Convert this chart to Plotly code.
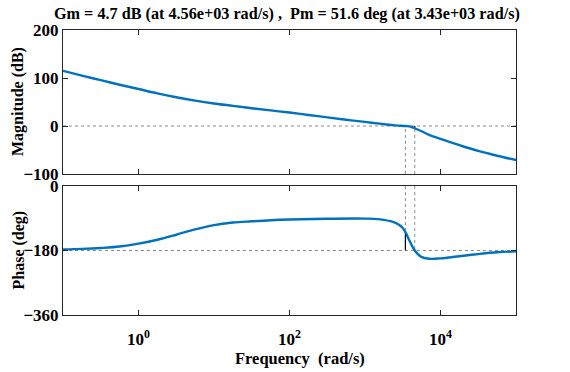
import plotly.graph_objects as go

# ---- data ----
mag_freq = [0.1, 0.178, 0.316, 0.562, 1, 1.78, 3.16, 5.62, 10, 17.8, 31.6, 56.2, 100,
            178, 316, 562, 1000, 1780, 2510, 3430, 3980, 4560, 5620, 7080, 10000,
            17800, 31600, 56200, 100000]
mag_db = [115, 105, 95.5, 86, 77, 68, 60, 53, 47, 42, 37, 32.5, 28,
          23, 18, 13, 8.5, 3.8, 1.3, 0, -1, -4.7, -11, -18.5, -27,
          -40, -52, -62, -71]

ph_freq = [0.1, 0.178, 0.316, 0.562, 1, 1.78, 3.16, 5.62, 10, 17.8, 31.6, 56.2, 100,
           316, 1000, 1580, 2340, 2820, 3160, 3430, 3890, 4560, 5500, 7080, 10000,
           17800, 31600, 56200, 100000]
ph_deg = [-177, -175.5, -173, -169, -161, -150, -136, -121, -109, -102, -98.5, -95.5, -93.5,
          -91.5, -91, -93, -100, -108, -117, -128.4, -153, -180, -197, -203, -202,
          -196, -190, -185, -182.5]

gm_db = 4.7
gm_freq = 4.56e3
pm_deg = 51.6
pm_freq = 3.43e3

x_tickvals = [1, 100, 10000]
x_ticktext = ["10<sup>0</sup>", "10<sup>2</sup>", "10<sup>4</sup>"]
mag_ticks = [200, 100, 0, -100]
ph_ticks = [0, -180, -360]

title_text = ("Gm = %.1f dB (at %.2e rad/s) ,  Pm = %.1f deg (at %.2e rad/s)"
              % (gm_db, gm_freq, pm_deg, pm_freq)).replace("  ", "\u00a0\u00a0")

# ---- figure ----
BLUE = "#0072BD"
AX = "#262626"
GRAY = "#8c8c8c"
FONT = "Liberation Serif"
xr = [0.1, 100000]

fig = go.Figure()
# reference dotted lines
fig.add_trace(go.Scatter(x=xr, y=[0, 0], mode="lines", xaxis="x", yaxis="y",
                         line=dict(color=GRAY, width=1, dash="dot"), hoverinfo="skip"))
fig.add_trace(go.Scatter(x=xr, y=[-180, -180], mode="lines", xaxis="x2", yaxis="y2",
                         line=dict(color=GRAY, width=1, dash="dot"), hoverinfo="skip"))
for f in (pm_freq, gm_freq):
    fig.add_trace(go.Scatter(x=[f, f], y=[-100, 0], mode="lines", xaxis="x", yaxis="y",
                             line=dict(color=GRAY, width=1, dash="dot"), hoverinfo="skip"))
    fig.add_trace(go.Scatter(x=[f, f], y=[0, -180], mode="lines", xaxis="x2", yaxis="y2",
                             line=dict(color=GRAY, width=1, dash="dot"), hoverinfo="skip"))
# margin markers (solid black)
fig.add_trace(go.Scatter(x=[gm_freq, gm_freq], y=[0, -gm_db], mode="lines", xaxis="x", yaxis="y",
                         line=dict(color="black", width=1.2), hoverinfo="skip"))
fig.add_trace(go.Scatter(x=[pm_freq, pm_freq], y=[-180, -180 + pm_deg], mode="lines",
                         xaxis="x2", yaxis="y2",
                         line=dict(color="black", width=1.2), hoverinfo="skip"))
# curves
fig.add_trace(go.Scatter(x=mag_freq, y=mag_db, mode="lines", xaxis="x", yaxis="y",
                         line=dict(color=BLUE, width=2.4, shape="spline", smoothing=1)))
fig.add_trace(go.Scatter(x=ph_freq, y=ph_deg, mode="lines", xaxis="x2", yaxis="y2",
                         line=dict(color=BLUE, width=2.4, shape="spline", smoothing=1)))

tickfont = dict(family=FONT, size=17, color="black", weight="bold")
common_x = dict(type="log", range=[-1, 5], showgrid=False, zeroline=False,
                showline=True, linecolor=AX, linewidth=1, mirror="ticks",
                ticks="inside", ticklen=5, tickcolor=AX, tickwidth=1,
                tickvals=x_tickvals, ticktext=x_ticktext, tickfont=tickfont)
common_y = dict(showgrid=False, zeroline=False, showline=True, linecolor=AX,
                linewidth=1, mirror="ticks", ticks="inside", ticklen=5,
                tickcolor=AX, tickwidth=1, tickfont=tickfont, ticklabelstandoff=0)

H_PLOT = 285.0
top_lo = (315 - 174) / H_PLOT
bot_hi = (315 - 186) / H_PLOT

fig.update_layout(
    width=570, height=372,
    margin=dict(l=63, r=54, t=30, b=57),
    paper_bgcolor="white", plot_bgcolor="white",
    showlegend=False,
    xaxis=dict(common_x, anchor="y", domain=[0, 1], showticklabels=False),
    xaxis2=dict(common_x, anchor="y2", domain=[0, 1], matches="x", ticklabelstandoff=9),
    yaxis=dict(common_y, anchor="x", domain=[top_lo, 1], range=[-100, 200],
               tickvals=mag_ticks),
    yaxis2=dict(common_y, anchor="x2", domain=[0, bot_hi], range=[-360, 0],
                tickvals=ph_ticks),
    annotations=[
        dict(text=title_text, xref="paper", yref="paper", x=(287 - 63) / 453.0,
             y=1 + (30 - 14) / H_PLOT,
             xanchor="center", yanchor="middle", showarrow=False,
             font=dict(family=FONT, size=16.2, color="black", weight="bold")),
        dict(text="Magnitude (dB)", xref="paper", yref="paper",
             x=-(63 - 18) / 453.0, y=(1 + top_lo) / 2, textangle=-90,
             xanchor="center", yanchor="middle", showarrow=False,
             font=dict(family=FONT, size=16, color="black", weight="bold")),
        dict(text="Phase (deg)", xref="paper", yref="paper",
             x=-(63 - 18) / 453.0, y=bot_hi / 2, textangle=-90,
             xanchor="center", yanchor="middle", showarrow=False,
             font=dict(family=FONT, size=16, color="black", weight="bold")),
        dict(text="Frequency\u00a0\u00a0(rad/s)", xref="paper", yref="paper",
             x=(300 - 63) / 453.0, y=-(358 - 315) / H_PLOT,
             xanchor="center", yanchor="middle", showarrow=False,
             font=dict(family=FONT, size=16.5, color="black", weight="bold")),
    ],
)

fig.write_html("out.html")
